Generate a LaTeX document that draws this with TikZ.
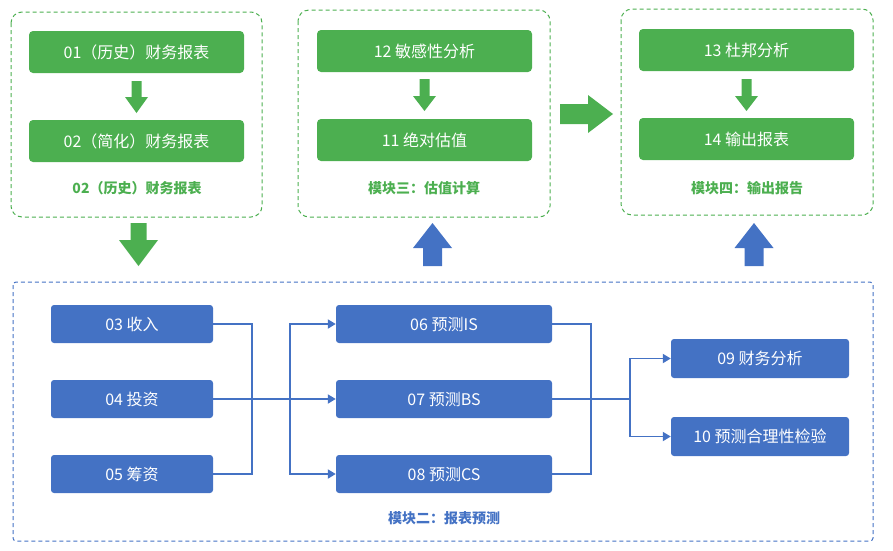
\documentclass[tikz,border=0pt]{standalone}
\usepackage{fontspec}
\setmainfont{Noto Sans CJK SC}
\usetikzlibrary{arrows.meta}
\definecolor{leaf}{HTML}{4CAF50}
\definecolor{sky}{HTML}{4472C4}
\tikzset{
  gbox/.style={fill=leaf, rounded corners=4pt, text=white, minimum width=215pt, minimum height=42pt, font=\fontsize{16}{19}\selectfont, inner sep=0pt},
  bbox/.style={fill=sky, rounded corners=3pt, text=white, minimum height=38pt, font=\fontsize{16}{19}\selectfont, inner sep=0pt},
  gframe/.style={draw=leaf, dash pattern=on 4pt off 3pt, line width=1pt, rounded corners=11pt},
  bframe/.style={draw=sky, dash pattern=on 4pt off 3pt, line width=1pt, rounded corners=3pt},
  gcap/.style={text=leaf, font=\fontsize{14}{17}\selectfont\bfseries},
  bcap/.style={text=sky, font=\fontsize{14}{17}\selectfont\bfseries},
  link/.style={draw=sky, line width=1.8pt},
  tip/.style={-{Triangle[length=8pt,width=9pt]}}
}
\begin{document}
\begin{tikzpicture}[x=1pt, y=-1pt]
  \useasboundingbox (0,0) rectangle (893,550);
  % three green frames and the blue one
  \draw[gframe] (11,12) rectangle (262,217);
  \draw[gframe] (298,10) rectangle (550,217);
  \draw[gframe] (621,9) rectangle (873,215);
  \draw[bframe] (13,282) rectangle (873,541);
  % green boxes
  \node[gbox] (n01) at (136.5,52) {01（历史）财务报表};
  \node[gbox] (n02) at (136.5,141) {02（简化）财务报表};
  \node[gbox] (n12) at (424.5,51) {12 敏感性分析};
  \node[gbox] (n11) at (424.5,140) {11 绝对估值};
  \node[gbox] (n13) at (746.5,50) {13 杜邦分析};
  \node[gbox] (n14) at (746.5,139) {14 输出报表};
  \node[gcap] (cap1) at (137,188) {02（历史）财务报表};
  \node[gcap] (cap3) at (424,188) {模块三：估值计算};
  \node[gcap] (cap4) at (747,188) {模块四：输出报告};
  % blue boxes
  \node[bbox, minimum width=162pt] (n03) at (132,324) {03 收入};
  \node[bbox, minimum width=162pt] (n04) at (132,399) {04 投资};
  \node[bbox, minimum width=162pt] (n05) at (132,474) {05 筹资};
  \node[bbox, minimum width=216pt] (n06) at (444,324) {06 预测IS};
  \node[bbox, minimum width=216pt] (n07) at (444,399) {07 预测BS};
  \node[bbox, minimum width=216pt] (n08) at (444,474) {08 预测CS};
  \node[bbox, minimum width=178pt, minimum height=39pt] (n09) at (760,358.5) {09 财务分析};
  \node[bbox, minimum width=178pt, minimum height=39pt] (n10) at (760,436.5) {10 预测合理性检验};
  \node[bcap] (cap2) at (444,518) {模块二：报表预测};
  % small arrows inside the frames
  \fill[leaf] (131.5,81) -- (141.5,81) -- (141.5,97) -- (148,97) -- (136.5,113) -- (125,97) -- (131.5,97) -- cycle;
  \fill[leaf] (419.5,79) -- (429.5,79) -- (429.5,96) -- (436,96) -- (424.5,111) -- (413,96) -- (419.5,96) -- cycle;
  \fill[leaf] (741.5,79) -- (751.5,79) -- (751.5,96) -- (758,96) -- (746.5,111) -- (735,96) -- (741.5,96) -- cycle;
  % big arrows between the frames
  \fill[leaf] (130.5,223) -- (146.5,223) -- (146.5,240) -- (158,240) -- (138.5,266) -- (119,240) -- (130.5,240) -- cycle;
  \fill[leaf] (560,104) -- (588,104) -- (588,95) -- (613,114) -- (588,133) -- (588,124) -- (560,124) -- cycle;
  \fill[sky] (423,266) -- (442,266) -- (442,248) -- (452,248) -- (432.5,223) -- (413,248) -- (423,248) -- cycle;
  \fill[sky] (744.5,266) -- (763.5,266) -- (763.5,248) -- (773.5,248) -- (754,223) -- (734.5,248) -- (744.5,248) -- cycle;
  % connectors
  \coordinate (jin) at (252,399);
  \coordinate (jmid) at (290,399);
  \coordinate (jout) at (591,399);
  \coordinate (jsplit) at (630,399);
  \draw[link] (n03.east) -| (jin) |- (n05.east);
  \draw[link, tip] (n04.east) -- (n07.west);
  \draw[link, tip] (jmid) |- (n06.west);
  \draw[link, tip] (jmid) |- (n08.west);
  \draw[link] (n06.east) -| (jout) |- (n08.east);
  \draw[link] (n07.east) -- (jsplit);
  \draw[link, tip] (jsplit) |- (n09.west);
  \draw[link, tip] (jsplit) |- (n10.west);
\end{tikzpicture}
\end{document}
